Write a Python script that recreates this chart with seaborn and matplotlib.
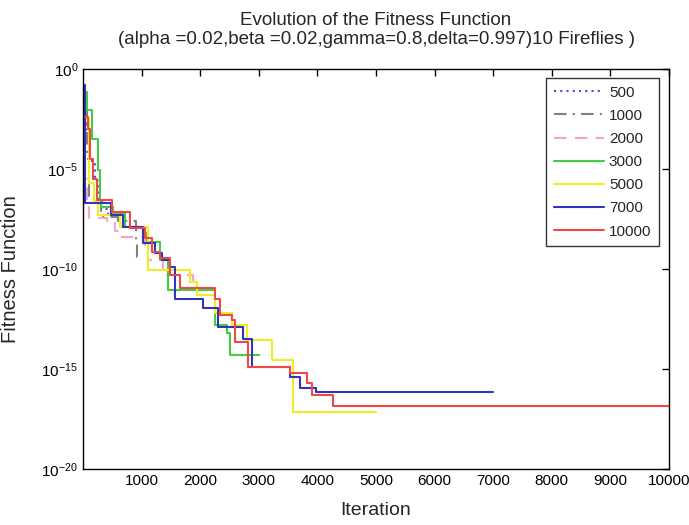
import numpy as np
import pandas as pd
import matplotlib
matplotlib.use("Agg")
import matplotlib.pyplot as plt
import matplotlib.ticker as mticker
import seaborn as sns

# ---- data: step points (iteration, log10 fitness) ----
labels = ["500", "1000", "2000", "3000", "5000", "7000", "10000"]
ends = [500, 1000, 2000, 3000, 5000, 7000, 10000]

it_500 = [1, 50, 120, 200, 260, 320, 420]
lg_500 = [-2.5, -3.2, -4.6, -5.6, -6.5, -7.0, -7.3]

it_1000 = [1, 60, 100, 300, 600, 900, 920]
lg_1000 = [-2.0, -4.5, -6.5, -7.4, -7.6, -8.7, -9.4]

it_2000 = [1, 40, 60, 100, 410, 546, 597, 1058, 1109, 1365, 1877]
lg_2000 = [-3.0, -5.5, -6.8, -7.45, -7.6, -8.1, -8.4, -9.05, -9.55, -10.3, -10.55]

it_3000 = [1, 60, 150, 250, 290, 300, 512, 717, 1024, 1092, 1314, 1450, 2253, 2457, 2509]
lg_3000 = [-1.15, -2.05, -3.5, -5.05, -6.55, -6.9, -7.2, -7.9, -8.2, -8.65, -9.55, -11.05, -12.8, -13.2, -14.3]

it_5000 = [1, 100, 180, 250, 631, 1109, 1826, 1945, 2253, 2543, 2799, 3225, 3584]
lg_5000 = [-2.5, -5.7, -6.6, -7.3, -7.9, -10.05, -10.65, -11.3, -12.2, -12.8, -13.55, -14.55, -17.15]

it_7000 = [1, 34, 478, 683, 1024, 1229, 1348, 1485, 1570, 2048, 2304, 2730, 2884, 3532, 3703, 3976]
lg_7000 = [-0.8, -6.7, -7.3, -7.9, -8.7, -9.2, -9.55, -9.9, -11.5, -11.95, -12.9, -13.5, -14.9, -15.4, -15.95, -16.15]

it_10000 = [1, 80, 120, 170, 230, 495, 802, 1058, 1177, 1314, 1485, 1655, 2253, 2338, 2543, 2594, 2816, 3532, 3823, 3908, 4266]
lg_10000 = [-2.4, -3.0, -4.5, -5.5, -6.55, -7.15, -7.95, -8.45, -9.15, -9.45, -10.3, -10.95, -11.5, -12.3, -12.55, -13.65, -14.9, -15.2, -15.7, -16.3, -16.85]

iters = [it_500, it_1000, it_2000, it_3000, it_5000, it_7000, it_10000]
logs = [lg_500, lg_1000, lg_2000, lg_3000, lg_5000, lg_7000, lg_10000]

colors = ["#4a4ad8", "#808080", "#f4a6c8", "#44cc44", "#eeee22", "#3333bb", "#f04848"]
styles = [(0, (1, 2)), (0, (6, 3, 1, 3)), (0, (6, 4)), "-", "-", "-", "-"]

xticks = [1000, 2000, 3000, 4000, 5000, 6000, 7000, 8000, 9000, 10000]
yticks = [1e0, 1e-5, 1e-10, 1e-15, 1e-20]

sns.set_style("white")
plt.rcParams["font.family"] = ["Liberation Sans", "DejaVu Sans"]

fig = plt.figure(figsize=(6.89, 5.25), dpi=100)
ax = fig.add_axes([0.1205, 0.1067, 0.8505, 0.7619])

for lab, end, it, lg, c, ls in zip(labels, ends, iters, logs, colors, styles):
    x = list(it) + [end]
    y = [10.0 ** v for v in lg] + [10.0 ** lg[-1]]
    df = pd.DataFrame({"Iteration": x, "Fitness": y})
    sns.lineplot(data=df, x="Iteration", y="Fitness", ax=ax, color=c, linestyle=ls,
                 drawstyle="steps-post", linewidth=1.5, label=lab, estimator=None, sort=False)

ax.set_yscale("log")
ax.set_xlim(0, 10000)
ax.set_ylim(1e-20, 1e0)
ax.set_xticks(xticks)
ax.set_xticklabels([str(t) for t in xticks])
ax.yaxis.set_major_locator(mticker.FixedLocator(yticks))
ax.yaxis.set_major_formatter(mticker.LogFormatterMathtext())
ax.yaxis.set_minor_locator(mticker.NullLocator())
ax.tick_params(direction="in", top=True, right=True, length=5, width=1, labelsize=11, colors="black")
for s in ax.spines.values():
    s.set_color("black")
    s.set_linewidth(1.0)

ax.set_xlabel("Iteration", fontsize=14)
ax.set_ylabel("Fitness Function", fontsize=14.5)
ax.xaxis.set_label_coords(0.5, -0.083)
ax.yaxis.set_label_coords(-0.108, 0.5)
ax.set_title("Evolution of the Fitness Function\n(alpha =0.02,beta =0.02,gamma=0.8,delta=0.997)10 Fireflies )",
             fontsize=13.5, pad=18, linespacing=1.15)

leg = ax.legend(loc="upper right", bbox_to_anchor=(0.983, 0.9775), borderaxespad=0,
                fontsize=11, frameon=True, fancybox=False, edgecolor="black",
                handlelength=3.3, labelspacing=0.6, borderpad=0.5, handletextpad=0.3)
leg.get_frame().set_linewidth(1.0)

fig.savefig("out.png", dpi=100)
